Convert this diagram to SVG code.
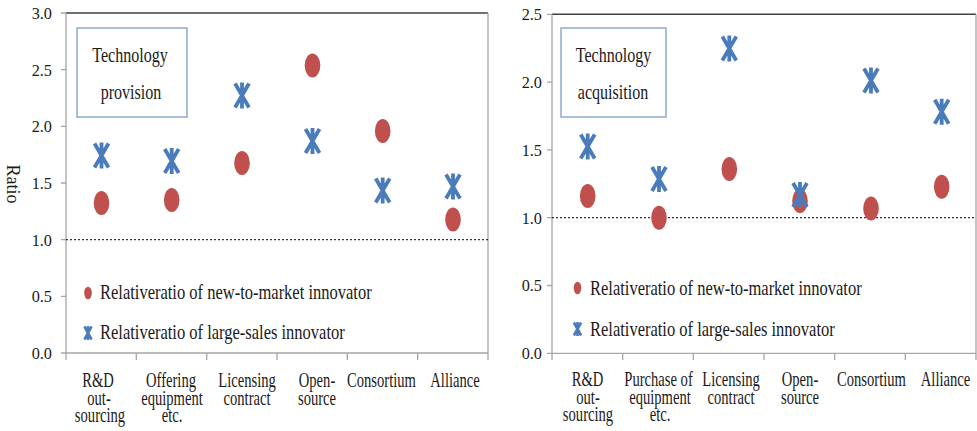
<svg xmlns="http://www.w3.org/2000/svg" xmlns:xlink="http://www.w3.org/1999/xlink" width="977" height="431" viewBox="0 0 977 431" font-family="Liberation Serif, DejaVu Serif, serif">
<style>
text{font-family:'Liberation Serif','DejaVu Serif',serif;fill:#1a1a1a}
.yl{font-size:17.5px;text-anchor:end}
.xl{font-size:20px;text-anchor:middle}
.lg{font-size:21px}
.bx{font-size:22px;text-anchor:middle}
.axis{stroke:#a6a6a6;stroke-width:1.3;fill:none}
.top{stroke:#404040;stroke-width:1.6}
.dot{fill:#c0504d}
.star{stroke:#4a7cbc;stroke-width:3.8;fill:none}
.starS{stroke:#4a7cbc;stroke-width:2.6;fill:none}
.ref{stroke:#333;stroke-width:1.3;stroke-dasharray:2 2}
.box{fill:#fff;stroke:#8eaad0;stroke-width:1.5}
</style>
<defs>
<ellipse id="d" rx="7.8" ry="12" class="dot"/>
<path id="s" d="M-7,-12L7,12M7,-12L-7,12M0,-13V13" class="star"/>
<ellipse id="dS" rx="3.8" ry="6.3" class="dot"/>
<path id="sS" d="M-3.6,-6.5L3.6,6.5M3.6,-6.5L-3.6,6.5M0,-7V7" class="starS"/>
</defs>
<rect width="977" height="431" fill="#fff"/>

<g id="left-chart">
<g id="left-frame">
<line class="top" x1="66" y1="13" x2="488" y2="13"/>
<path class="axis" d="M66,13V360M488,13V360M66,353H488M61,13H66M61,69.7H66M61,126.3H66M61,183H66M61,239.7H66M61,296.3H66M61,353H66M136.3,353V360M206.7,353V360M277,353V360M347.3,353V360M417.7,353V360"/>
<line class="ref" x1="66" y1="239.7" x2="488" y2="239.7"/>
</g>
<g id="left-yaxis">
<text class="yl" transform="translate(52,18.8) scale(0.93,1)">3.0</text>
<text class="yl" transform="translate(52,75.5) scale(0.93,1)">2.5</text>
<text class="yl" transform="translate(52,132.1) scale(0.93,1)">2.0</text>
<text class="yl" transform="translate(52,188.8) scale(0.93,1)">1.5</text>
<text class="yl" transform="translate(52,245.5) scale(0.93,1)">1.0</text>
<text class="yl" transform="translate(52,302.1) scale(0.93,1)">0.5</text>
<text class="yl" transform="translate(52,358.8) scale(0.93,1)">0.0</text>
<text style="font-size:18px;text-anchor:middle" transform="translate(7,184) rotate(90)">Ratio</text>
</g>
<g id="left-xaxis">
<text class="xl" transform="translate(98,387) scale(0.73,1)">R&amp;D</text>
<text class="xl" transform="translate(99,404.5) scale(0.73,1)">out-</text>
<text class="xl" transform="translate(100,422) scale(0.73,1)">sourcing</text>
<text class="xl" transform="translate(171,387) scale(0.73,1)">Offering</text>
<text class="xl" transform="translate(172,404.5) scale(0.73,1)">equipment</text>
<text class="xl" transform="translate(172,422) scale(0.73,1)">etc.</text>
<text class="xl" transform="translate(247,387) scale(0.73,1)">Licensing</text>
<text class="xl" transform="translate(247,404.5) scale(0.73,1)">contract</text>
<text class="xl" transform="translate(317,387) scale(0.73,1)">Open-</text>
<text class="xl" transform="translate(317,404.5) scale(0.73,1)">source</text>
<text class="xl" transform="translate(381.5,387) scale(0.73,1)">Consortium</text>
<text class="xl" transform="translate(455,387) scale(0.73,1)">Alliance</text>
</g>
<g id="left-title">
<rect class="box" x="77" y="28" width="110" height="89"/>
<text class="bx" transform="translate(130,62) scale(0.73,1)">Technology</text>
<text class="bx" transform="translate(131,99) scale(0.73,1)">provision</text>
</g>
<g id="left-legend">
<use xlink:href="#dS" x="88" y="293"/>
<text class="lg" transform="translate(100,299) scale(0.786,1)">Relativeratio of new-to-market innovator</text>
<use xlink:href="#sS" x="88" y="333"/>
<text class="lg" transform="translate(100,339) scale(0.786,1)">Relativeratio of large-sales innovator</text>
</g>
<g id="left-data">
<use xlink:href="#d" x="101.5" y="203"/>
<use xlink:href="#s" x="101.5" y="155.5"/>
<use xlink:href="#d" x="171.7" y="200"/>
<use xlink:href="#s" x="171.7" y="161"/>
<use xlink:href="#d" x="242" y="163"/>
<use xlink:href="#s" x="242" y="95.5"/>
<use xlink:href="#d" x="312.5" y="65.5"/>
<use xlink:href="#s" x="312.5" y="141"/>
<use xlink:href="#d" x="382.7" y="131"/>
<use xlink:href="#s" x="382.7" y="190.5"/>
<use xlink:href="#s" x="453" y="186.5"/>
<use xlink:href="#d" x="453" y="219.5"/>
</g>
</g>

<g id="right-chart">
<g id="right-frame">
<line class="top" x1="552" y1="14.3" x2="976" y2="14.3"/>
<path class="axis" d="M552,14.3V360M976,14.3V360M552,353.3H976M547,14.3H552M547,82.1H552M547,149.9H552M547,217.7H552M547,285.5H552M547,353.3H552M622.7,353.3V360M693.3,353.3V360M764,353.3V360M834.7,353.3V360M905.3,353.3V360"/>
<line class="ref" x1="552" y1="217.7" x2="976" y2="217.7"/>
</g>
<g id="right-yaxis">
<text class="yl" transform="translate(542,20.1) scale(0.93,1)">2.5</text>
<text class="yl" transform="translate(542,87.9) scale(0.93,1)">2.0</text>
<text class="yl" transform="translate(542,155.7) scale(0.93,1)">1.5</text>
<text class="yl" transform="translate(542,223.5) scale(0.93,1)">1.0</text>
<text class="yl" transform="translate(542,291.3) scale(0.93,1)">0.5</text>
<text class="yl" transform="translate(542,359.1) scale(0.93,1)">0.0</text>
</g>
<g id="right-xaxis">
<text class="xl" transform="translate(587.5,386) scale(0.73,1)">R&amp;D</text>
<text class="xl" transform="translate(588,403.5) scale(0.73,1)">out-</text>
<text class="xl" transform="translate(588,421) scale(0.73,1)">sourcing</text>
<text class="xl" transform="translate(658.5,386) scale(0.73,1)">Purchase of</text>
<text class="xl" transform="translate(660,403.5) scale(0.73,1)">equipment</text>
<text class="xl" transform="translate(660,421) scale(0.73,1)">etc.</text>
<text class="xl" transform="translate(731,386) scale(0.73,1)">Licensing</text>
<text class="xl" transform="translate(731,403.5) scale(0.73,1)">contract</text>
<text class="xl" transform="translate(800,386) scale(0.73,1)">Open-</text>
<text class="xl" transform="translate(800,403.5) scale(0.73,1)">source</text>
<text class="xl" transform="translate(871.5,386) scale(0.73,1)">Consortium</text>
<text class="xl" transform="translate(945.5,386) scale(0.73,1)">Alliance</text>
</g>
<g id="right-title">
<rect class="box" x="561" y="28" width="105" height="89"/>
<text class="bx" transform="translate(613.5,62) scale(0.73,1)">Technology</text>
<text class="bx" transform="translate(613,99) scale(0.73,1)">acquisition</text>
</g>
<g id="right-legend">
<use xlink:href="#dS" x="577.5" y="288"/>
<text class="lg" transform="translate(590,295) scale(0.786,1)">Relativeratio of new-to-market innovator</text>
<use xlink:href="#sS" x="577.5" y="329"/>
<text class="lg" transform="translate(590,336) scale(0.786,1)">Relativeratio of large-sales innovator</text>
</g>
<g id="right-data">
<use xlink:href="#d" x="587.7" y="196"/>
<use xlink:href="#s" x="587.7" y="146.5"/>
<use xlink:href="#d" x="659" y="217.7"/>
<use xlink:href="#s" x="659" y="179"/>
<use xlink:href="#d" x="729.3" y="169"/>
<use xlink:href="#s" x="729.3" y="48.5"/>
<use xlink:href="#d" x="800" y="201"/>
<use xlink:href="#s" x="800" y="195"/>
<use xlink:href="#d" x="871" y="208.5"/>
<use xlink:href="#s" x="871" y="80.5"/>
<use xlink:href="#s" x="941.7" y="111.7"/>
<use xlink:href="#d" x="941.7" y="186.7"/>
</g>
</g>
</svg>
